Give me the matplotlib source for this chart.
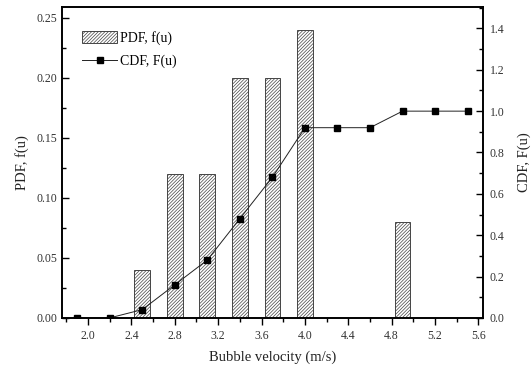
import numpy as np
import matplotlib.pyplot as plt
from matplotlib.ticker import MultipleLocator

plt.rcParams['font.family'] = ['Liberation Serif', 'DejaVu Serif']
plt.rcParams['hatch.linewidth'] = 0.5
plt.rcParams['hatch.color'] = '#444444'

# bubble velocity bins (m/s)
velocity = [1.9, 2.2, 2.5, 2.8, 3.1, 3.4, 3.7, 4.0, 4.3, 4.6, 4.9, 5.2, 5.5]
pdf = [0.0, 0.0, 0.04, 0.12, 0.12, 0.20, 0.20, 0.24, 0.0, 0.0, 0.08, 0.0, 0.0]
cdf = [0.0, 0.0, 0.04, 0.16, 0.28, 0.48, 0.68, 0.92, 0.92, 0.92, 1.0, 1.0, 1.0]

fig = plt.figure(figsize=(5.32, 3.74), dpi=100)
ax = fig.add_axes([0.1165, 0.150, 0.791, 0.832])
ax2 = ax.twinx()

bars = ax.bar(velocity, pdf, width=0.145, color='white', edgecolor='#444444',
              linewidth=0.7, hatch='//////////', label='PDF, f(u)')
line, = ax2.plot(velocity, cdf, color='#222222', lw=0.7, marker='s',
                 ms=5, mfc='black', mec='black', label='CDF, F(u)')

ax.set_xlim(1.76, 5.64)
ax.set_ylim(0, 0.259)
ax2.set_ylim(0, 1.505)

ax.xaxis.set_major_locator(MultipleLocator(0.4))
ax.xaxis.set_minor_locator(MultipleLocator(0.2))
ax.yaxis.set_major_locator(MultipleLocator(0.05))
ax.yaxis.set_minor_locator(MultipleLocator(0.025))
ax2.yaxis.set_major_locator(MultipleLocator(0.2))
ax2.yaxis.set_minor_locator(MultipleLocator(0.1))
ax.xaxis.set_major_formatter(plt.FormatStrFormatter('%.1f'))
ax.yaxis.set_major_formatter(plt.FormatStrFormatter('%.2f'))
ax2.yaxis.set_major_formatter(plt.FormatStrFormatter('%.1f'))

ax.tick_params(axis='x', which='major', direction='out', length=5, width=1,
               labelsize=8.5, colors='black', labelcolor='#333333')
ax.tick_params(axis='x', which='minor', direction='out', length=3, width=1)
ax.tick_params(axis='y', which='major', direction='in', length=5, width=1,
               labelsize=8.5, labelcolor='#333333')
ax.tick_params(axis='y', which='minor', direction='in', length=3, width=1)
ax2.tick_params(axis='y', which='major', direction='in', length=5, width=1,
                labelsize=8.5, labelcolor='#333333', pad=5)
ax2.tick_params(axis='y', which='minor', direction='in', length=3, width=1)

for a in (ax, ax2):
    for s in a.spines.values():
        s.set_linewidth(1.2)

ax.set_xlabel('Bubble velocity (m/s)', fontsize=10.5, color='#222222', labelpad=6)
ax.set_ylabel('PDF, f(u)', fontsize=10.5, color='#222222', labelpad=5)
ax2.set_ylabel('CDF, F(u)', fontsize=10.5, color='#222222', labelpad=9)

ax.legend([bars, line], ['PDF, f(u)', 'CDF, F(u)'], loc='upper left',
          bbox_to_anchor=(0.035, 0.94), frameon=False, fontsize=10,
          handlelength=2.5, handleheight=1.0, labelspacing=0.65,
          handletextpad=0.25, borderaxespad=0)

fig.savefig('out.png', dpi=100)
